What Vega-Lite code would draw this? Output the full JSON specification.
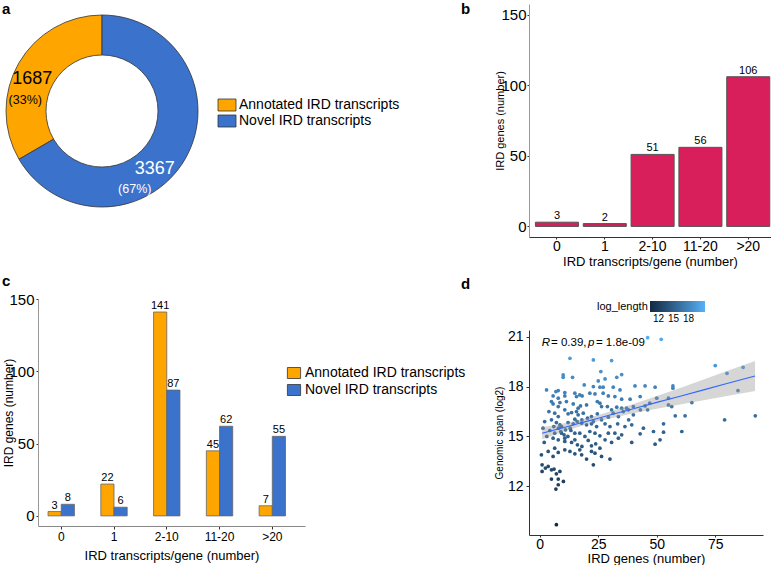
{
 "$schema": "https://vega.github.io/schema/vega-lite/v6.json",
 "background": "white",
 "padding": {"left": 1, "top": 2, "right": 0, "bottom": 0},
 "config": {
  "font": "Liberation Sans",
  "view": {"stroke": null},
  "axis": {"grid": false, "domainColor": "#333333", "tickColor": "#333333", "labelColor": "#000000", "titleColor": "#000000", "titleFontWeight": "normal", "tickSize": 3, "labelFontSize": 14, "titleFontSize": 13},
  "title": {"fontSize": 15, "fontWeight": "bold", "anchor": "start", "frame": "group", "offset": 0, "baseline": "alphabetic", "color": "#000000"},
  "legend": {"labelColor": "#000000", "titleColor": "#000000"}
 },
 "resolve": {"scale": {"color": "independent"}},
 "spacing": 491,
 "bounds": "flush",
 "hconcat": [
  {
   "vconcat": [
    {
     "width": 128, "height": 214,
     "title": {"text": "a", "dx": -36, "dy": 17},
     "data": {"values": [
      {"type": "Annotated IRD transcripts", "count": 1687, "pct": "(33%)"},
      {"type": "Novel IRD transcripts", "count": 3367, "pct": "(67%)"}
     ]},
     "encoding": {
      "theta": {"field": "count", "type": "quantitative", "stack": true},
      "order": {"field": "type", "type": "ordinal", "sort": "descending"}
     },
     "layer": [
      {"mark": {"type": "arc", "innerRadius": 56, "outerRadius": 96, "stroke": "#333333", "strokeWidth": 0.8},
       "encoding": {"color": {"field": "type", "type": "nominal",
        "scale": {"domain": ["Annotated IRD transcripts", "Novel IRD transcripts"], "range": ["#FFA500", "#3B72CB"]},
        "legend": {"title": null, "orient": "none", "legendX": 182, "legendY": 94, "symbolType": "M-1.5,-1H1.5V1H-1.5Z", "symbolSize": 144, "symbolStrokeColor": "#333333", "symbolStrokeWidth": 0.8, "symbolOpacity": 1, "labelFontSize": 14, "labelLimit": 300, "rowPadding": 0, "labelOffset": 5}}}},
      {"mark": {"type": "text", "radius": 77, "dx": -3, "dy": 6, "fontSize": 18, "color": "#000000"},
       "encoding": {"text": {"condition": {"test": "datum.type === 'Annotated IRD transcripts'", "field": "count", "type": "nominal"}, "value": ""}}},
      {"mark": {"type": "text", "radius": 77, "dx": -10, "dy": 27, "fontSize": 12.5, "color": "#000000"},
       "encoding": {"text": {"condition": {"test": "datum.type === 'Annotated IRD transcripts'", "field": "pct", "type": "nominal"}, "value": ""}}},
      {"mark": {"type": "text", "radius": 77, "dx": -14, "dy": 20, "fontSize": 18, "color": "#FFFFFF"},
       "encoding": {"text": {"condition": {"test": "datum.type === 'Novel IRD transcripts'", "field": "count", "type": "nominal"}, "value": ""}}},
      {"mark": {"type": "text", "radius": 77, "dx": -34, "dy": 40, "fontSize": 12.5, "color": "#FFFFFF"},
       "encoding": {"text": {"condition": {"test": "datum.type === 'Novel IRD transcripts'", "field": "pct", "type": "nominal"}, "value": ""}}}
     ]
    },
    {
     "width": 267, "height": 227,
     "title": {"text": "c", "dx": -36, "dy": 1},
     "data": {"values": [
      {"cat": "0", "type": "Annotated IRD transcripts", "n": 3},
      {"cat": "0", "type": "Novel IRD transcripts", "n": 8},
      {"cat": "1", "type": "Annotated IRD transcripts", "n": 22},
      {"cat": "1", "type": "Novel IRD transcripts", "n": 6},
      {"cat": "2-10", "type": "Annotated IRD transcripts", "n": 141},
      {"cat": "2-10", "type": "Novel IRD transcripts", "n": 87},
      {"cat": "11-20", "type": "Annotated IRD transcripts", "n": 45},
      {"cat": "11-20", "type": "Novel IRD transcripts", "n": 62},
      {"cat": ">20", "type": "Annotated IRD transcripts", "n": 7},
      {"cat": ">20", "type": "Novel IRD transcripts", "n": 55}
     ]},
     "encoding": {
      "x": {"field": "cat", "type": "ordinal", "sort": ["0", "1", "2-10", "11-20", ">20"],
       "scale": {"paddingInner": 0.5, "paddingOuter": 0.28, "align": 0.34},
       "axis": {"title": "IRD transcripts/gene (number)", "labelAngle": 0, "labelFontSize": 12, "titleFontSize": 13, "labelPadding": 2, "titlePadding": 7, "domainColor": "#888888"}},
      "xOffset": {"field": "type", "type": "nominal", "scale": {"domain": ["Annotated IRD transcripts", "Novel IRD transcripts"]}},
      "y": {"field": "n", "type": "quantitative", "scale": {"domain": [-7, 150], "nice": false},
       "axis": {"title": "IRD genes (number)", "values": [0, 50, 100, 150], "labelFontSize": 15, "titleFontSize": 12, "tickSize": 2, "labelPadding": 2, "titlePadding": -7, "domainColor": "#999999"}}
     },
     "layer": [
      {"mark": {"type": "bar", "stroke": "#666666", "strokeWidth": 0.8},
       "encoding": {"color": {"field": "type", "type": "nominal",
        "scale": {"domain": ["Annotated IRD transcripts", "Novel IRD transcripts"], "range": ["#FFA500", "#3B72CB"]},
        "legend": {"title": null, "orient": "none", "legendX": 249, "legendY": 67, "symbolType": "M-1.2,-1H1.2V1H-1.2Z", "symbolSize": 121, "symbolStrokeColor": "#333333", "symbolStrokeWidth": 0.8, "symbolOpacity": 1, "labelFontSize": 14, "labelLimit": 300, "rowPadding": 1, "labelOffset": 4}}}},
      {"mark": {"type": "text", "baseline": "bottom", "dy": -1, "fontSize": 11, "color": "#000000"},
       "encoding": {"text": {"field": "n", "type": "quantitative"}}}
     ]
    }
   ],
   "spacing": 81,
   "bounds": "flush",
   "resolve": {"scale": {"color": "independent"}}
  },
  {
   "vconcat": [
    {
     "width": 242, "height": 233,
     "title": {"text": "b", "dx": -68, "dy": 17},
     "data": {"values": [
      {"cat": "0", "n": 3}, {"cat": "1", "n": 2}, {"cat": "2-10", "n": 51}, {"cat": "11-20", "n": 56}, {"cat": ">20", "n": 106}
     ]},
     "encoding": {
      "x": {"field": "cat", "type": "ordinal", "sort": ["0", "1", "2-10", "11-20", ">20"],
       "scale": {"paddingInner": 0.1, "paddingOuter": 0.08, "align": 0.84},
       "axis": {"title": "IRD transcripts/gene (number)", "labelAngle": 0, "labelFontSize": 14, "titleFontSize": 13, "tickSize": 2, "labelPadding": 0, "titlePadding": 2}},
      "y": {"field": "n", "type": "quantitative", "scale": {"domain": [-7.5, 157.5], "nice": false},
       "axis": {"title": "IRD genes (number)", "values": [0, 50, 100, 150], "labelFontSize": 15, "titleFontSize": 11, "tickSize": 2, "labelPadding": 1, "titlePadding": -5, "domainColor": "#999999"}}
     },
     "layer": [
      {"mark": {"type": "bar", "fill": "#D81E5B", "stroke": "#555555", "strokeWidth": 1}},
      {"mark": {"type": "text", "baseline": "bottom", "dy": -1, "fontSize": 11, "color": "#000000"},
       "encoding": {"text": {"field": "n", "type": "quantitative"}}}
     ]
    },
    {
     "width": 234, "height": 205,
     "title": {"text": "d", "dx": -68, "dy": -5},
     "layer": [
      {
       "data": {"values": [
        {"genes":46.1,"span":20.94},{"genes":51.9,"span":20.84},{"genes":12.9,"span":19.7},{"genes":22.9,"span":19.6},{"genes":30.7,"span":19.56},
        {"genes":75,"span":19.26},{"genes":86.9,"span":19.16},{"genes":80,"span":18.8},{"genes":10,"span":18.7},{"genes":10,"span":18.56},
        {"genes":14,"span":18.56},{"genes":26.1,"span":18.9},{"genes":35,"span":18.72},{"genes":32.9,"span":18.56},{"genes":25,"span":18.34},
        {"genes":27.9,"span":18.46},{"genes":19,"span":18.1},{"genes":22.9,"span":18.0},{"genes":25.7,"span":17.96},{"genes":27.1,"span":17.96},
        {"genes":31.4,"span":17.96},{"genes":34.3,"span":17.8},{"genes":40.7,"span":18.04},{"genes":45,"span":18.04},{"genes":49.3,"span":17.96},
        {"genes":56.9,"span":18.04},{"genes":56.9,"span":17.9},{"genes":84.7,"span":17.76},{"genes":2.9,"span":17.8},{"genes":6.9,"span":17.7},
        {"genes":7.9,"span":17.76},{"genes":10.7,"span":17.64},{"genes":15,"span":17.6},{"genes":17.1,"span":17.5},{"genes":18.1,"span":17.44},
        {"genes":15.7,"span":17.4},{"genes":5.7,"span":17.44},{"genes":7.9,"span":17.3},{"genes":10.7,"span":17.44},{"genes":21.4,"span":17.6},
        {"genes":23.6,"span":17.56},{"genes":27.1,"span":17.6},{"genes":29.3,"span":17.44},{"genes":32.1,"span":17.4},{"genes":35,"span":17.24},
        {"genes":38.6,"span":17.24},{"genes":42.9,"span":17.4},{"genes":50,"span":17.3},{"genes":55,"span":17.3},{"genes":65,"span":17.04},
        {"genes":5,"span":17.1},{"genes":5.7,"span":16.96},{"genes":8.6,"span":17.04},{"genes":7.9,"span":16.8},{"genes":11.4,"span":17.1},
        {"genes":14.3,"span":16.96},{"genes":16.4,"span":16.7},{"genes":20,"span":16.9},{"genes":17.4,"span":16.84},{"genes":24.6,"span":17.1},
        {"genes":25.7,"span":17.0},{"genes":26.4,"span":16.8},{"genes":28.9,"span":16.8},{"genes":30.7,"span":16.6},{"genes":32.9,"span":16.76},
        {"genes":35,"span":16.7},{"genes":37.1,"span":16.7},{"genes":40,"span":16.8},{"genes":45,"span":16.84},{"genes":46.1,"span":16.6},
        {"genes":55,"span":16.9},{"genes":56.4,"span":16.8},{"genes":3.9,"span":16.5},{"genes":6.4,"span":16.4},{"genes":7.9,"span":16.2},
        {"genes":10.7,"span":16.6},{"genes":12.1,"span":16.36},{"genes":13.6,"span":16.44},{"genes":15.7,"span":16.5},{"genes":16.4,"span":16.3},
        {"genes":18.6,"span":16.4},{"genes":20.4,"span":16.1},{"genes":22.1,"span":16.2},{"genes":24.6,"span":16.36},{"genes":22.9,"span":15.9},
        {"genes":26.4,"span":16.0},{"genes":29.3,"span":16.16},{"genes":31.4,"span":16.4},{"genes":33.6,"span":16.2},{"genes":35.7,"span":16.5},
        {"genes":37.9,"span":16.6},{"genes":57.9,"span":16.24},{"genes":62.1,"span":16.24},{"genes":79,"span":16.0},{"genes":92.1,"span":16.24},
        {"genes":2.1,"span":15.9},{"genes":5,"span":16.0},{"genes":7.1,"span":15.84},{"genes":8.6,"span":15.7},{"genes":9.3,"span":15.6},
        {"genes":12.1,"span":15.84},{"genes":14.3,"span":15.76},{"genes":15,"span":16.04},{"genes":17.9,"span":15.8},{"genes":20,"span":15.7},
        {"genes":22.1,"span":15.76},{"genes":24.3,"span":15.6},{"genes":27.9,"span":15.76},{"genes":30,"span":15.6},{"genes":33.3,"span":15.76},
        {"genes":36.4,"span":15.6},{"genes":39.3,"span":15.7},{"genes":44.3,"span":15.5},{"genes":48.6,"span":15.3},{"genes":52.9,"span":15.76},
        {"genes":1.4,"span":15.5},{"genes":4.3,"span":15.36},{"genes":6.4,"span":15.2},{"genes":9.3,"span":15.2},{"genes":10.4,"span":15.1},
        {"genes":10.7,"span":14.9},{"genes":13.3,"span":15.36},{"genes":15,"span":15.2},{"genes":17.1,"span":15.2},{"genes":19.3,"span":15.0},
        {"genes":21.4,"span":15.3},{"genes":23.6,"span":15.2},{"genes":25.7,"span":15.04},{"genes":29.3,"span":15.2},{"genes":32.1,"span":15.2},
        {"genes":35,"span":15.1},{"genes":42.9,"span":15.16},{"genes":52.9,"span":15.26},{"genes":60.7,"span":15.3},{"genes":39.3,"span":14.64},
        {"genes":1.9,"span":14.64},{"genes":5.7,"span":14.9},{"genes":7.9,"span":14.8},{"genes":10.7,"span":14.7},{"genes":13.6,"span":14.64},
        {"genes":15,"span":14.8},{"genes":16.1,"span":14.5},{"genes":18,"span":14.4},{"genes":20.7,"span":14.76},{"genes":22.1,"span":14.44},
        {"genes":23.9,"span":14.56},{"genes":25.7,"span":14.3},{"genes":27.9,"span":14.8},{"genes":30.7,"span":14.64},{"genes":33.6,"span":14.9},
        {"genes":49.3,"span":14.54},{"genes":51.4,"span":14.8},{"genes":0.7,"span":13.9},{"genes":3.6,"span":14.1},{"genes":6.4,"span":14.3},
        {"genes":7.9,"span":14.04},{"genes":5.7,"span":13.8},{"genes":10.7,"span":14.2},{"genes":12.9,"span":14.1},{"genes":15,"span":13.96},
        {"genes":17.1,"span":14.2},{"genes":17.9,"span":13.9},{"genes":20,"span":13.64},{"genes":22.1,"span":14.1},{"genes":23.6,"span":14.0},
        {"genes":26.4,"span":13.8},{"genes":30,"span":13.64},{"genes":22.9,"span":13.3},{"genes":1,"span":13.3},{"genes":2.4,"span":13.1},
        {"genes":3.6,"span":13.2},{"genes":5,"span":13.0},{"genes":1,"span":12.9},{"genes":6.1,"span":13.04},{"genes":7.1,"span":12.76},
        {"genes":8.6,"span":12.9},{"genes":5,"span":12.44},{"genes":7.9,"span":12.44},{"genes":7.9,"span":12.1},{"genes":10.1,"span":12.3},
        {"genes":6.9,"span":11.84},{"genes":7.1,"span":9.7},{"genes":8,"span":15.5},{"genes":9,"span":15.3},{"genes":11,"span":15.4},
        {"genes":12,"span":15.0},{"genes":3,"span":15.0},{"genes":6,"span":15.6},{"genes":13,"span":15.5},{"genes":16,"span":15.9},
        {"genes":18,"span":16.0},{"genes":40,"span":16.3},{"genes":43,"span":16.6},{"genes":47,"span":17.0},{"genes":38,"span":16.0}
       ]},
       "mark": {"type": "circle", "size": 14, "opacity": 1},
       "encoding": {
        "x": {"field": "genes", "type": "quantitative", "title": "IRD genes (number)", "scale": {"domain": [-4.6, 95.4], "nice": false, "zero": false},
         "axis": {"values": [0, 25, 50, 75], "labelFontSize": 14, "titleFontSize": 13, "tickSize": 2, "labelPadding": 0, "titlePadding": 1}},
        "y": {"field": "span", "type": "quantitative", "title": "Genomic span (log2)", "scale": {"domain": [9.08, 21.4], "nice": false, "zero": false},
         "axis": {"values": [12, 15, 18, 21], "labelFontSize": 14, "titleFontSize": 10, "labelPadding": 3, "titlePadding": 3}},
        "color": {"field": "span", "type": "quantitative", "title": "log_length",
         "scale": {"domain": [10.3, 21.3], "range": ["#132B43", "#56B1F7"], "clamp": true},
         "legend": {"orient": "none", "legendX": 68, "legendY": -29, "direction": "horizontal", "titleOrient": "left", "gradientLength": 55, "gradientThickness": 11, "values": [12, 15, 18], "labelFontSize": 10, "titleFontSize": 11, "titleFontWeight": "normal", "labelOffset": 2, "titlePadding": 2}}
       }
      },
      {
       "data": {"name": "band", "values": [
        {"genes":1,"lo":14.83,"hi":15.55,"fit":15.19},{"genes":5,"lo":15.03,"hi":15.65,"fit":15.34},
        {"genes":10,"lo":15.28,"hi":15.78,"fit":15.53},{"genes":15,"lo":15.51,"hi":15.93,"fit":15.72},
        {"genes":20,"lo":15.72,"hi":16.10,"fit":15.91},{"genes":25,"lo":15.91,"hi":16.29,"fit":16.10},
        {"genes":30,"lo":16.08,"hi":16.50,"fit":16.29},{"genes":40,"lo":16.39,"hi":16.95,"fit":16.67},
        {"genes":50,"lo":16.67,"hi":17.43,"fit":17.05},{"genes":60,"lo":16.92,"hi":17.92,"fit":17.42},
        {"genes":70,"lo":17.18,"hi":18.42,"fit":17.80},{"genes":80,"lo":17.43,"hi":18.93,"fit":18.18},
        {"genes":92,"lo":17.74,"hi":19.54,"fit":18.64}
       ]},
       "mark": {"type": "area", "color": "#999999", "opacity": 0.4},
       "encoding": {
        "x": {"field": "genes", "type": "quantitative", "title": "IRD genes (number)"},
        "y": {"field": "lo", "type": "quantitative", "title": "Genomic span (log2)"},
        "y2": {"field": "hi"}
       }
      },
      {
       "data": {"name": "band"},
       "mark": {"type": "line", "color": "#3366FF", "strokeWidth": 1.1},
       "encoding": {
        "x": {"field": "genes", "type": "quantitative", "title": "IRD genes (number)"},
        "y": {"field": "fit", "type": "quantitative", "title": "Genomic span (log2)"}
       }
      },
      {"data": {"values": [{}]}, "mark": {"type": "text", "align": "left", "baseline": "middle", "fontSize": 11.5, "fontStyle": "italic", "text": "R"},
       "encoding": {"x": {"datum": 0.8}, "y": {"datum": 20.64}}},
      {"data": {"values": [{}]}, "mark": {"type": "text", "align": "left", "baseline": "middle", "fontSize": 11.5, "text": "= 0.39,"},
       "encoding": {"x": {"datum": 4.8}, "y": {"datum": 20.64}}},
      {"data": {"values": [{}]}, "mark": {"type": "text", "align": "left", "baseline": "middle", "fontSize": 11.5, "fontStyle": "italic", "text": "p"},
       "encoding": {"x": {"datum": 20.6}, "y": {"datum": 20.64}}},
      {"data": {"values": [{}]}, "mark": {"type": "text", "align": "left", "baseline": "middle", "fontSize": 11.5, "text": "= 1.8e-09"},
       "encoding": {"x": {"datum": 24.0}, "y": {"datum": 20.64}}}
     ]
    }
   ],
   "spacing": 93,
   "bounds": "flush",
   "resolve": {"scale": {"color": "independent"}}
  }
 ]
}
